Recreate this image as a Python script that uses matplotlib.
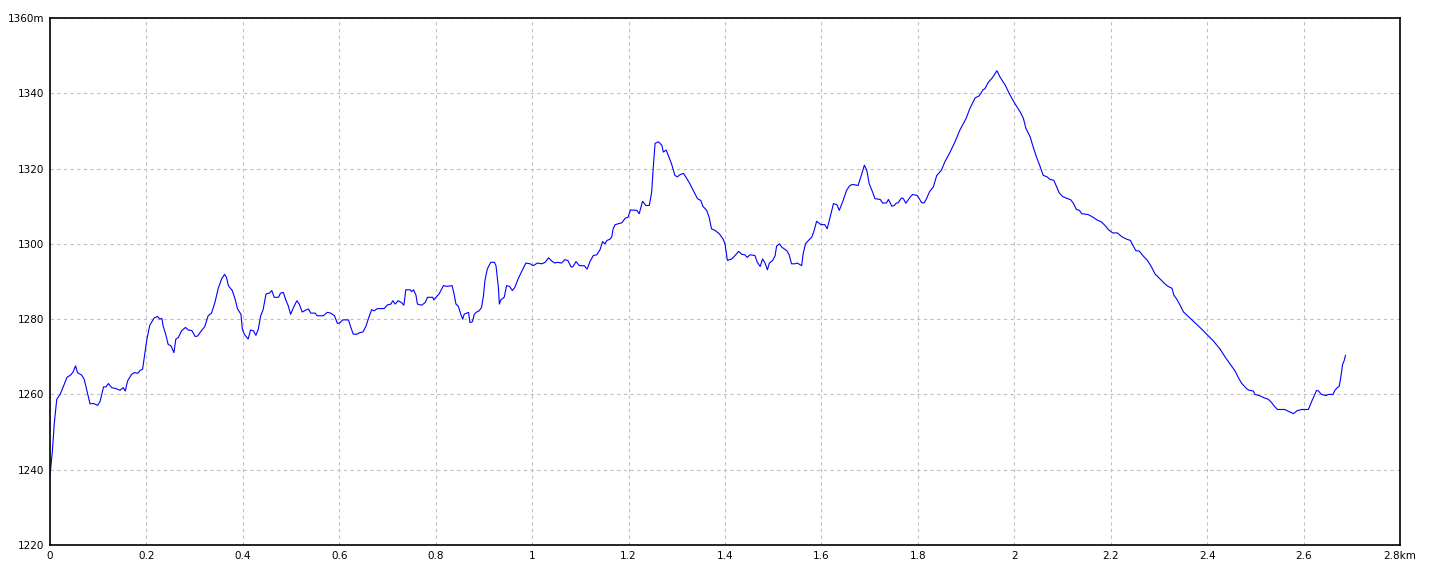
import matplotlib
matplotlib.use("Agg")
import matplotlib.pyplot as plt

# distance along the route (km) and elevation (m)
dist_km = [
    0.000, 0.005, 0.009, 0.014, 0.021, 0.028, 0.035, 0.044, 0.048, 0.053,
    0.057, 0.066, 0.071, 0.076, 0.083, 0.090, 0.099, 0.104, 0.111, 0.116,
    0.121, 0.128, 0.138, 0.145, 0.152, 0.156, 0.161, 0.169, 0.175, 0.182,
    0.187, 0.192, 0.197, 0.201, 0.207, 0.216, 0.223, 0.228, 0.232, 0.235,
    0.240, 0.245, 0.251, 0.257, 0.261, 0.266, 0.273, 0.281, 0.287, 0.294,
    0.301, 0.306, 0.315, 0.321, 0.328, 0.335, 0.342, 0.349, 0.356, 0.362,
    0.366, 0.370, 0.378, 0.384, 0.389, 0.396, 0.399, 0.403, 0.411, 0.416,
    0.422, 0.427, 0.432, 0.437, 0.442, 0.448, 0.455, 0.460, 0.465, 0.474,
    0.478, 0.484, 0.489, 0.494, 0.499, 0.505, 0.512, 0.517, 0.523, 0.532,
    0.536, 0.541, 0.550, 0.554, 0.567, 0.575, 0.582, 0.590, 0.596, 0.600,
    0.607, 0.619, 0.624, 0.629, 0.637, 0.642, 0.649, 0.655, 0.660, 0.667,
    0.672, 0.679, 0.693, 0.700, 0.707, 0.711, 0.716, 0.722, 0.729, 0.734,
    0.738, 0.747, 0.750, 0.754, 0.759, 0.762, 0.771, 0.778, 0.783, 0.794,
    0.796, 0.802, 0.807, 0.816, 0.823, 0.834, 0.838, 0.842, 0.847, 0.852,
    0.856, 0.859, 0.868, 0.871, 0.876, 0.880, 0.885, 0.890, 0.895, 0.899,
    0.902, 0.907, 0.914, 0.922, 0.925, 0.930, 0.932, 0.935, 0.942, 0.947,
    0.953, 0.959, 0.964, 0.971, 0.978, 0.987, 0.996, 1.002, 1.011, 1.020,
    1.027, 1.034, 1.041, 1.047, 1.052, 1.061, 1.068, 1.074, 1.081, 1.085,
    1.091, 1.098, 1.108, 1.114, 1.120, 1.127, 1.134, 1.141, 1.146, 1.151,
    1.155, 1.161, 1.165, 1.168, 1.172, 1.186, 1.193, 1.199, 1.204, 1.217,
    1.222, 1.229, 1.236, 1.243, 1.248, 1.251, 1.255, 1.262, 1.269, 1.272,
    1.278, 1.282, 1.289, 1.296, 1.301, 1.307, 1.314, 1.321, 1.327, 1.334,
    1.343, 1.350, 1.354, 1.362, 1.367, 1.372, 1.379, 1.388, 1.396, 1.400,
    1.405, 1.414, 1.421, 1.428, 1.435, 1.441, 1.446, 1.452, 1.462, 1.467,
    1.473, 1.478, 1.483, 1.488, 1.492, 1.499, 1.504, 1.507, 1.513, 1.518,
    1.528, 1.533, 1.538, 1.545, 1.550, 1.559, 1.562, 1.567, 1.573, 1.580,
    1.585, 1.590, 1.599, 1.607, 1.612, 1.618, 1.625, 1.632, 1.637, 1.645,
    1.652, 1.659, 1.665, 1.676, 1.684, 1.689, 1.694, 1.699, 1.706, 1.711,
    1.722, 1.727, 1.735, 1.739, 1.746, 1.751, 1.755, 1.759, 1.766, 1.770,
    1.775, 1.784, 1.789, 1.798, 1.802, 1.808, 1.813, 1.818, 1.824, 1.832,
    1.839, 1.849, 1.856, 1.867, 1.877, 1.887, 1.900, 1.908, 1.919, 1.927,
    1.935, 1.939, 1.946, 1.955, 1.964, 1.970, 1.981, 1.991, 2.001, 2.012,
    2.019, 2.024, 2.033, 2.039, 2.046, 2.052, 2.060, 2.068, 2.074, 2.082,
    2.088, 2.093, 2.100, 2.107, 2.117, 2.122, 2.129, 2.135, 2.140, 2.153,
    2.163, 2.171, 2.181, 2.188, 2.195, 2.204, 2.214, 2.223, 2.232, 2.241,
    2.246, 2.252, 2.259, 2.268, 2.276, 2.284, 2.292, 2.302, 2.313, 2.319,
    2.327, 2.331, 2.337, 2.344, 2.351, 2.361, 2.371, 2.385, 2.399, 2.413,
    2.427, 2.437, 2.447, 2.458, 2.465, 2.472, 2.482, 2.487, 2.496, 2.499,
    2.510, 2.518, 2.527, 2.534, 2.539, 2.546, 2.561, 2.572, 2.579, 2.587,
    2.596, 2.610, 2.617, 2.622, 2.627, 2.631, 2.637, 2.647, 2.651, 2.661,
    2.665, 2.670, 2.674, 2.677, 2.681, 2.684, 2.687,
]
elev_m = [
    1238.5, 1245.0, 1252.5, 1258.7, 1260.0, 1262.2, 1264.5, 1265.3, 1266.0, 1267.6,
    1265.8, 1265.1, 1264.0, 1261.3, 1257.5, 1257.6, 1257.1, 1258.2, 1262.0, 1262.0,
    1262.9, 1261.8, 1261.5, 1261.1, 1261.8, 1260.9, 1263.6, 1265.3, 1265.8, 1265.6,
    1266.4, 1266.7, 1271.1, 1274.7, 1278.4, 1280.3, 1280.7, 1280.0, 1280.2, 1278.0,
    1276.0, 1273.3, 1272.9, 1271.1, 1274.7, 1275.1, 1276.9, 1277.8, 1277.1, 1277.0,
    1275.4, 1275.5, 1277.1, 1278.0, 1280.9, 1281.6, 1284.4, 1288.2, 1290.7, 1291.9,
    1291.1, 1288.9, 1287.6, 1285.3, 1282.7, 1281.3, 1277.3, 1276.0, 1274.7, 1277.1,
    1276.9, 1275.7, 1277.3, 1280.9, 1282.5, 1286.7, 1286.9, 1287.6, 1285.8, 1285.8,
    1286.9, 1287.1, 1285.1, 1283.6, 1281.3, 1283.1, 1284.9, 1284.0, 1281.9, 1282.5,
    1282.7, 1281.6, 1281.6, 1280.9, 1280.9, 1281.8, 1281.6, 1280.9, 1278.9, 1278.9,
    1279.8, 1279.8, 1277.8, 1276.0, 1276.0, 1276.4, 1276.6, 1278.0, 1280.0, 1282.5,
    1282.2, 1282.8, 1282.8, 1283.8, 1284.0, 1284.9, 1284.0, 1284.9, 1284.4, 1283.7,
    1287.8, 1287.8, 1287.3, 1287.8, 1286.4, 1284.0, 1283.7, 1284.4, 1285.8, 1285.8,
    1285.1, 1286.0, 1286.7, 1288.9, 1288.7, 1288.9, 1286.7, 1284.0, 1283.4, 1281.3,
    1280.0, 1281.3, 1281.8, 1279.1, 1279.3, 1281.3, 1281.9, 1282.2, 1283.1, 1286.2,
    1290.2, 1293.3, 1295.1, 1295.1, 1294.2, 1288.4, 1284.0, 1285.1, 1285.8, 1288.9,
    1288.7, 1287.6, 1288.4, 1290.7, 1292.6, 1294.9, 1294.7, 1294.2, 1294.9, 1294.7,
    1295.1, 1296.3, 1295.4, 1294.9, 1295.1, 1294.9, 1295.8, 1295.6, 1293.8, 1294.0,
    1295.3, 1294.2, 1294.2, 1293.3, 1295.3, 1296.9, 1297.1, 1298.5, 1300.6, 1300.0,
    1300.9, 1301.2, 1301.8, 1304.0, 1305.1, 1305.6, 1306.8, 1307.1, 1309.0, 1308.9,
    1308.0, 1311.3, 1310.2, 1310.2, 1313.8, 1320.0, 1326.7, 1327.1, 1326.2, 1324.4,
    1324.9, 1323.6, 1321.3, 1318.2, 1317.8, 1318.4, 1318.7, 1317.3, 1316.0, 1314.2,
    1312.0, 1311.5, 1310.0, 1308.9, 1307.1, 1304.0, 1303.6, 1302.7, 1301.3, 1300.0,
    1295.6, 1296.0, 1296.9, 1298.0, 1297.2, 1297.1, 1296.4, 1297.1, 1296.9, 1295.1,
    1294.0, 1296.0, 1294.9, 1293.1, 1294.9, 1295.6, 1296.9, 1299.4, 1300.0, 1299.1,
    1298.2, 1297.1, 1294.7, 1294.7, 1294.9, 1294.2, 1297.3, 1300.0, 1300.9, 1301.8,
    1303.6, 1306.0, 1305.1, 1305.1, 1304.0, 1307.1, 1310.7, 1310.4, 1308.9, 1311.5,
    1314.2, 1315.5, 1315.8, 1315.5, 1318.7, 1320.9, 1319.6, 1316.0, 1313.8, 1312.0,
    1311.8, 1310.8, 1310.9, 1311.8, 1310.0, 1310.2, 1310.8, 1310.9, 1312.2, 1312.0,
    1310.8, 1312.4, 1313.1, 1312.9, 1312.2, 1310.9, 1310.9, 1312.0, 1313.8, 1315.1,
    1318.1, 1319.6, 1321.8, 1324.4, 1327.1, 1330.2, 1333.3, 1336.0, 1338.8, 1339.3,
    1340.9, 1341.2, 1342.9, 1344.2, 1346.0, 1344.4, 1342.2, 1339.6, 1337.3, 1335.1,
    1333.3, 1330.7, 1328.4, 1325.8, 1323.1, 1321.1, 1318.2, 1317.8, 1317.1, 1316.9,
    1315.1, 1313.6, 1312.6, 1312.2, 1311.7, 1310.9, 1309.1, 1308.9, 1308.0, 1307.8,
    1307.1, 1306.4, 1305.8, 1304.9, 1303.8, 1302.9, 1302.9, 1301.9, 1301.3, 1300.9,
    1299.6, 1298.2, 1298.1, 1296.7, 1295.6, 1294.0, 1292.0, 1290.7, 1289.3, 1288.7,
    1288.2, 1286.4, 1285.3, 1283.7, 1281.9, 1280.7, 1279.5, 1277.8, 1276.0, 1274.2,
    1272.0, 1270.0, 1268.2, 1266.2, 1264.4, 1262.9, 1261.5, 1261.1, 1260.9, 1260.0,
    1259.6, 1259.1, 1258.7, 1257.8, 1256.9, 1256.0, 1256.0, 1255.3, 1254.9, 1255.7,
    1256.0, 1256.0, 1258.2, 1259.6, 1261.1, 1260.9, 1260.0, 1259.7, 1260.0, 1260.0,
    1261.1, 1261.8, 1262.2, 1264.4, 1268.0, 1268.9, 1270.4,
]

x_ticks = [0, 0.2, 0.4, 0.6, 0.8, 1.0, 1.2, 1.4, 1.6, 1.8, 2.0, 2.2, 2.4, 2.6, 2.8]
x_labels = ["0", "0.2", "0.4", "0.6", "0.8", "1", "1.2", "1.4", "1.6", "1.8",
            "2", "2.2", "2.4", "2.6", "2.8km"]
y_ticks = [1220, 1240, 1260, 1280, 1300, 1320, 1340, 1360]
y_labels = ["1220", "1240", "1260", "1280", "1300", "1320", "1340", "1360m"]

fig = plt.figure(figsize=(14.4, 5.76), dpi=100)
ax = fig.add_axes([50 / 1440, 31 / 576, 1350 / 1440, 527 / 576])

ax.plot(dist_km, elev_m, color="#0000ff", linewidth=0.8)

ax.set_xlim(0, 2.8)
ax.set_ylim(1220, 1360)
ax.set_xticks(x_ticks)
ax.set_xticklabels(x_labels)
ax.set_yticks(y_ticks)
ax.set_yticklabels(y_labels)
ax.tick_params(axis="both", length=0, labelsize=7.5, colors="black")
ax.tick_params(axis="x", pad=4)
ax.tick_params(axis="y", pad=4)

ax.grid(True, color="#c0c0c0", linestyle=(0, (3, 3)), linewidth=0.8)
for s in ax.spines.values():
    s.set_color("black")
    s.set_linewidth(1.2)

fig.savefig("out.png", dpi=100)
